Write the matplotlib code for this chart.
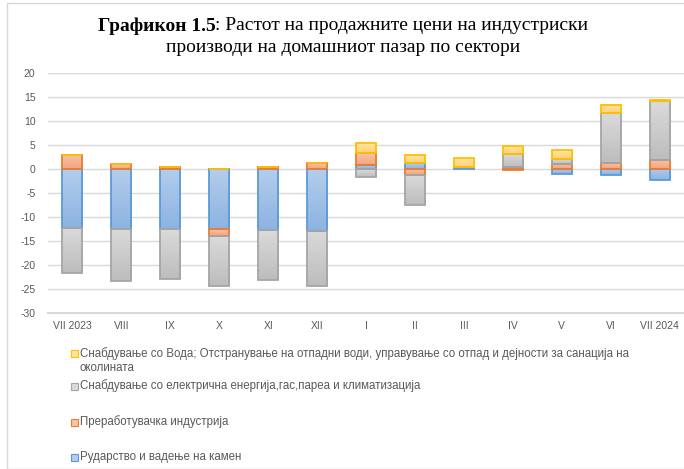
import numpy as np
import matplotlib
matplotlib.use('Agg')
import matplotlib.pyplot as plt
from matplotlib.colors import LinearSegmentedColormap
from matplotlib.patches import Rectangle

plt.rcParams['axes.unicode_minus'] = False

cats = ['VII 2023', 'VIII', 'IX', 'X', 'XI', 'XII', 'I', 'II', 'III', 'IV', 'V', 'VI', 'VII 2024']
mining = [-12.2, -12.4, -12.6, -12.4, -12.7, -12.85, 0.9, 1.2, 0.5, 0.35, -1.1, -1.3, -2.35]
manuf = [3.0, 1.0, 0.35, -1.6, 0.35, 1.2, 2.5, -1.3, 0.0, -0.3, 1.1, 1.3, 1.95]
elec = [-9.5, -11.0, -10.3, -10.4, -10.4, -11.5, -1.6, -6.3, 0.0, 2.7, 1.0, 10.3, 12.2]
water = [0, 0, 0, 0, 0, 0, 1.95, 1.65, 1.7, 1.65, 1.8, 1.7, 0.3]

labels = ['Рударство и вадење на камен',
          'Преработувачка индустрија',
          'Снабдување со електрична енергија,гас,пареа и климатизација',
          'Снабдување со Вода; Отстранување на отпадни води, управување со отпад и дејности за санација на\nоколината']
# (light, dark, edge)
styles = [('#b4cdec', '#8cb3e2', '#5b9bd5'),
          ('#f8c4a8', '#f3a47e', '#ed7d31'),
          ('#dadada', '#bdbdbd', '#a5a5a5'),
          ('#ffe4a3', '#ffd27a', '#ffc000')]
series = [mining, manuf, elec, water]

fig = plt.figure(figsize=(6.84, 4.69), dpi=100)
ax = fig.add_axes([48/684, 1-313/469, 1-48/684, 240/469])

x = np.arange(len(cats))
w = 0.41
pos = np.zeros(len(cats))
neg = np.zeros(len(cats))
for vals, (lc, dc, ec) in zip(series, styles):
    vals = np.array(vals, dtype=float)
    bottoms = np.where(vals >= 0, pos, neg)
    cmap = LinearSegmentedColormap.from_list('g', [dc, lc])
    for xi, b, v in zip(x, bottoms, vals):
        if v == 0:
            continue
        y0, y1 = min(b, b + v), max(b, b + v)
        grad = np.linspace(1, 0, 50).reshape(-1, 1)
        ax.imshow(grad, extent=[xi - w/2, xi + w/2, y0, y1], cmap=cmap,
                  aspect='auto', zorder=2, interpolation='bilinear')
    ax.bar(x, vals, w, bottom=bottoms, facecolor='none', edgecolor=ec,
           linewidth=1.3, zorder=3)
    pos = np.where(vals >= 0, pos + vals, pos)
    neg = np.where(vals < 0, neg + vals, neg)

ax.set_xlim(-0.5, len(cats) - 0.5)
ax.set_ylim(-30, 20)
ax.set_yticks(np.arange(-30, 21, 5))
ax.set_xticks(x)
ax.set_xticklabels(cats)
ax.grid(axis='y', color='#d9d9d9', linewidth=1, zorder=0)
ax.axhline(-30, color='#d9d9d9', linewidth=1.5, clip_on=False, zorder=0)
ax.set_axisbelow(True)
for s in ax.spines.values():
    s.set_visible(False)
ax.tick_params(length=0, labelsize=7.5, colors='#595959', labelcolor='#595959')
ax.tick_params(axis='y', pad=9)
ax.tick_params(axis='x', pad=6)
for t in ax.get_xticklabels() + ax.get_yticklabels():
    t.set_fontfamily('Liberation Sans')

# outer frame
fig.patches.append(Rectangle((7/684, 0), 1, 1 - 3/469, transform=fig.transFigure,
                             facecolor='none', edgecolor='#d9d9d9', linewidth=1))

# title with bold prefix
fig.canvas.draw()
r = fig.canvas.get_renderer()
t1 = fig.text(0, 1 - 26/469, 'Графикон 1.5', fontsize=14, fontweight='bold',
              family='Liberation Serif', va='center')
t2 = fig.text(0, 1 - 26/469, ': Растот на продажните цени на индустриски', fontsize=14,
              family='Liberation Serif', va='center')
w1 = t1.get_window_extent(r).width
w2 = t2.get_window_extent(r).width
start = 343 - (w1 + w2) / 2
t1.set_x(start / 684)
t2.set_x((start + w1) / 684)
fig.text(343/684, 1 - 48/469, 'производи на домашниот пазар по сектори', fontsize=14,
         family='Liberation Serif', va='center', ha='center')

# legend, top to bottom
leg_y = [353, 386, 422, 457]
for lab, (lc, dc, ec), yy in zip(labels[::-1], styles[::-1], leg_y):
    fig.patches.append(Rectangle((71/684, 1 - (yy + 3.5)/469), 7/684, 7/469,
                                 transform=fig.transFigure, facecolor=lc,
                                 edgecolor=ec, linewidth=0.8))
    fig.text(80/684, 1 - (yy - 6)/469 if '\n' in lab else 1 - yy/469, lab,
             fontsize=8.3, color='#595959', family='Liberation Sans',
             va='top' if '\n' in lab else 'center', linespacing=1.2)

fig.savefig('out.png', dpi=100)
